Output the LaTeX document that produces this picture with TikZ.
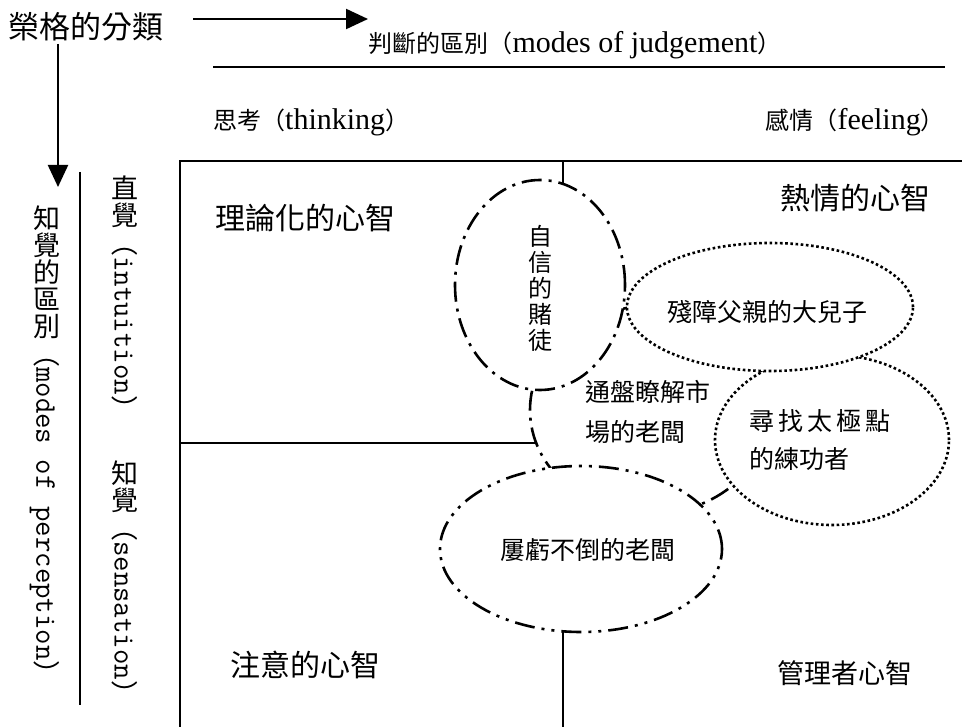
\documentclass[tikz,border=0pt]{standalone}
\usepackage{fontspec}
\setmainfont{Liberation Serif}
\newfontfamily\cjk{Noto Sans CJK TC}
\usetikzlibrary{arrows.meta,shapes.geometric}
\newcommand{\uprc}[1]{\rotatebox[origin=c]{90}{\makebox[1em]{\rule[-0.12em]{0pt}{1em}#1}}}
\newcommand{\cjs}[2]{{\cjk\fontsize{#1}{#1}\selectfont #2}}
\newcommand{\vlatin}[1]{{\ttfamily\fontsize{30}{30}\selectfont #1}}
\begin{document}
\begin{tikzpicture}[x=1pt,y=-1pt,
  frame/.style={line width=1.8pt},
  thinline/.style={line width=1.5pt},
  arr/.style={line width=2.2pt,-{Triangle[length=22pt,width=20pt]}},
  ell/.style={ellipse, draw, line width=2.6pt, fill=white, inner sep=0pt},
  dashdot/.style={ell, dash pattern=on 20pt off 7pt on 3pt off 7pt},
  dashdotdot/.style={ell, dash pattern=on 20pt off 7pt on 3pt off 7pt on 3pt off 7pt},
  dotline/.style={ell, dash pattern=on 2.6pt off 2.6pt},
  lbl/.style={inner sep=0pt},
  latin/.style={lbl, font=\fontsize{30}{36}\selectfont}]

\useasboundingbox (0,0) rectangle (962,727);

% title and arrows
\node[lbl] (title) at (86,27) {\cjs{31}{榮格的分類}};
\coordinate (ha) at (193,19);
\coordinate (hb) at (368,19);
\draw[arr] (ha) -- (hb);
\coordinate (va) at (58,44);
\coordinate (vb) at (58,187);
\draw[arr] (va) -- (vb);

% judgement header
\node[latin] (judge) at (575,45) {\cjs{24}{判斷的區別（}modes of judgement\cjs{24}{）}};
\coordinate (jl1) at (213,67);
\coordinate (jl2) at (945,67);
\draw[thinline] (jl1) -- (jl2);
\node[latin, anchor=west] (think) at (213,122) {\cjs{24}{思考（}thinking\cjs{24}{）}};
\node[latin, anchor=east] (feel) at (945,122) {\cjs{24}{感情（}feeling\cjs{24}{）}};

% perception side
\coordinate (ll1) at (80,172);
\coordinate (ll2) at (80,705);
\draw[thinline] (ll1) -- (ll2);
\node[lbl, rotate=-90, anchor=west] (pv) at (45,205)
  {\cjs{27}{\uprc{知}\uprc{覺}\uprc{的}\uprc{區}\uprc{別}（}\vlatin{modes of perception}\cjs{27}{）}};
\node[lbl, rotate=-90, anchor=west] (iv) at (125,175)
  {\cjs{27}{\uprc{直}\uprc{覺}（}\vlatin{intuition}\cjs{27}{）}};
\node[lbl, rotate=-90, anchor=west] (sv) at (125,460)
  {\cjs{27}{\uprc{知}\uprc{覺}（}\vlatin{sensation}\cjs{27}{）}};

% grid
\coordinate (tl) at (180,161);
\coordinate (tr) at (962,161);
\coordinate (bl) at (180,727);
\coordinate (mt) at (563,161);
\coordinate (mb) at (563,727);
\coordinate (ml) at (180,443);
\coordinate (mc) at (650,443);
\draw[frame] (tr) -- (tl) -- (bl);
\draw[frame] (mt) -- (mb);
\draw[frame] (ml) -- (mc);

% ellipses
\node[dashdot, minimum width=240pt, minimum height=208pt] (mkt) at (650,410) {};
\node[dashdot, minimum width=170pt, minimum height=210pt] (gamb) at (540,285) {};
\node[dotline, minimum width=234pt, minimum height=170pt] (taiji) at (832,440) {};
\node[dotline, minimum width=286pt, minimum height=128pt] (son) at (770,307) {};
\node[dashdotdot, minimum width=282pt, minimum height=166pt] (loss) at (581,549) {};

% quadrant labels
\node[lbl] (q1) at (305,218) {\cjs{30}{理論化的心智}};
\node[lbl] (q2) at (855,198) {\cjs{30}{熱情的心智}};
\node[lbl] (q3) at (305,665) {\cjs{30}{注意的心智}};
\node[lbl] (q4) at (845,673) {\cjs{27}{管理者心智}};

% ellipse texts
\node[lbl, align=center, font=\cjk\fontsize{24}{26}\selectfont] (gt) at (540,288) {自\\信\\的\\賭\\徒};
\node[lbl] (st) at (767,312) {\cjs{25}{殘障父親的大兒子}};
\node[lbl, align=left, font=\cjk\fontsize{25}{40}\selectfont] (mtx) at (648,412) {通盤瞭解市\\場的老闆};
\node[lbl, align=left, font=\cjk\fontsize{25}{38}\selectfont] (tt) at (820,440) {尋\kern4pt 找\kern4pt 太\kern4pt 極\kern4pt 點\\的練功者};
\node[lbl] (lt) at (588,550) {\cjs{25}{屢虧不倒的老闆}};
\end{tikzpicture}
\end{document}
